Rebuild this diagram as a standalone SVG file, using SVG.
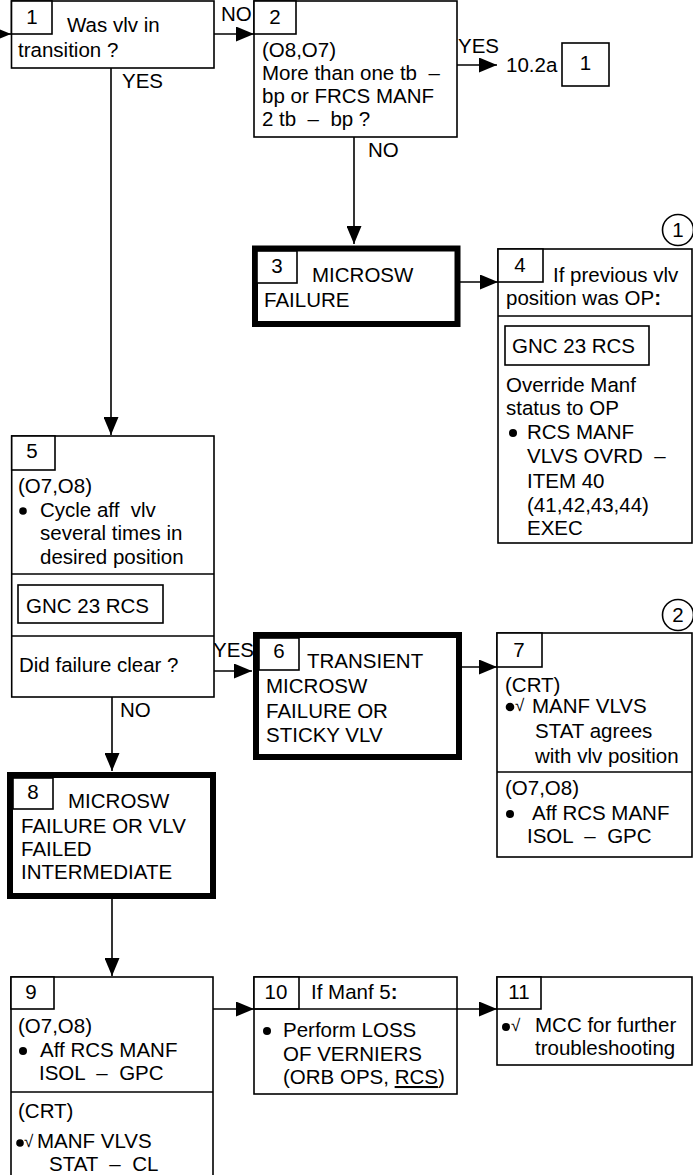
<svg xmlns="http://www.w3.org/2000/svg" width="693" height="1175" viewBox="0 0 693 1175" xml:space="preserve">
<style>
text{font-family:"Liberation Sans",Arial,Helvetica,sans-serif;font-size:20.5px;fill:#000;white-space:pre}
.n{text-anchor:middle}
.ck{font-family:"Liberation Sans",sans-serif;font-size:17px}
.b{fill:#fff;stroke:#000;stroke-width:1.6}
.k{fill:#fff;stroke:#000;stroke-width:6}
.l{fill:none;stroke:#000;stroke-width:1.6}
.c{stroke:#000;stroke-width:1.6;fill:none}
.d{fill:#000}
</style>
<defs>
<marker id="ah" markerWidth="18" markerHeight="15" refX="18" refY="7.5" orient="auto" markerUnits="userSpaceOnUse"><path d="M0,0 L18,7.5 L0,15 z" fill="#000"/></marker>
</defs>
<rect x="0" y="0" width="693" height="1175" fill="#fff"/>

<g id="connectors">
<line class="c" x1="-20" y1="34" x2="11" y2="34" marker-end="url(#ah)"/>
<line class="c" x1="214" y1="34" x2="254" y2="34" marker-end="url(#ah)"/>
<text x="221" y="21">NO</text>
<line class="c" x1="111" y1="68" x2="111" y2="435" marker-end="url(#ah)"/>
<text x="122" y="88">YES</text>
<line class="c" x1="457" y1="65" x2="497" y2="65" marker-end="url(#ah)"/>
<text x="458" y="53">YES</text>
<line class="c" x1="354" y1="137" x2="354" y2="244" marker-end="url(#ah)"/>
<text x="368" y="157">NO</text>
<line class="c" x1="460" y1="282" x2="498" y2="282" marker-end="url(#ah)"/>
<line class="c" x1="214" y1="671" x2="252" y2="671" marker-end="url(#ah)"/>
<text x="213" y="657">YES</text>
<line class="c" x1="112" y1="697" x2="112" y2="771" marker-end="url(#ah)"/>
<text x="120" y="717">NO</text>
<line class="c" x1="462" y1="667" x2="497" y2="667" marker-end="url(#ah)"/>
<line class="c" x1="112" y1="899" x2="112" y2="976" marker-end="url(#ah)"/>
<line class="c" x1="213" y1="1009" x2="254" y2="1009" marker-end="url(#ah)"/>
<line class="c" x1="457" y1="1009" x2="497" y2="1009" marker-end="url(#ah)"/>
</g>

<g id="ref-10-2a">
<text x="506" y="72">10.2a</text>
<rect class="b" x="562" y="43" width="47" height="43"/>
<text class="n" x="585.5" y="70">1</text>
</g>

<g id="node1">
<rect class="b" x="11.5" y="1" width="202.5" height="67"/>
<rect class="b" x="11.5" y="1" width="40.5" height="33"/>
<text class="n" x="32" y="24">1</text>
<text x="67" y="32">Was vlv in</text>
<text x="18" y="57">transition ?</text>
</g>

<g id="node2">
<rect class="b" x="254" y="1" width="203" height="136"/>
<rect class="b" x="254" y="1" width="42" height="33"/>
<text class="n" x="275" y="24">2</text>
<text x="262" y="57">(O8,O7)</text>
<text x="262" y="80">More than one tb  –</text>
<text x="262" y="103">bp or FRCS MANF</text>
<text x="262" y="126">2 tb  –  bp ?</text>
</g>

<g id="node3">
<rect class="k" x="255" y="248.5" width="202.5" height="75.5"/>
<rect class="b" x="257" y="251" width="40" height="32"/>
<text class="n" x="277" y="273">3</text>
<text x="312" y="282">MICROSW</text>
<text x="264" y="307">FAILURE</text>
</g>

<g id="node4">
<rect class="b" x="498" y="249" width="194" height="294"/>
<rect class="b" x="498" y="249" width="45" height="33"/>
<text class="n" x="520" y="272">4</text>
<text x="553" y="282">If previous vlv</text>
<text x="506" y="305">position was OP<tspan font-weight="bold">:</tspan></text>
<line class="l" x1="498" y1="316" x2="692" y2="316"/>
<rect class="b" x="505" y="326" width="144" height="39"/>
<text x="512" y="353">GNC 23 RCS</text>
<text x="506" y="392">Override Manf</text>
<text x="506" y="415">status to OP</text>
<circle class="d" cx="513" cy="433" r="4"/>
<text x="527" y="439">RCS MANF</text>
<text x="527" y="463">VLVS OVRD  –</text>
<text x="527" y="488">ITEM 40</text>
<text x="527" y="512">(41,42,43,44)</text>
<text x="527" y="535">EXEC</text>
<circle class="b" cx="678" cy="230" r="15.5"/>
<text class="n" x="678" y="237">1</text>
</g>

<g id="node5">
<rect class="b" x="11.7" y="436" width="202.3" height="261"/>
<rect class="b" x="11.7" y="436" width="43.3" height="34"/>
<text class="n" x="32" y="458">5</text>
<text x="18" y="493">(O7,O8)</text>
<circle class="d" cx="23" cy="511" r="3.8"/>
<text x="40" y="517">Cycle aff  vlv</text>
<text x="40" y="540">several times in</text>
<text x="40" y="564">desired position</text>
<line class="l" x1="11.7" y1="574" x2="214" y2="574"/>
<rect class="b" x="18" y="585" width="145" height="38"/>
<text x="26" y="613">GNC 23 RCS</text>
<line class="l" x1="11.7" y1="636" x2="214" y2="636"/>
<text x="19" y="672">Did failure clear ?</text>
</g>

<g id="node6">
<rect class="k" x="256" y="635" width="203" height="122"/>
<rect class="b" x="259" y="638" width="40" height="32"/>
<text class="n" x="279" y="658">6</text>
<text x="307" y="668">TRANSIENT</text>
<text x="266" y="693">MICROSW</text>
<text x="266" y="718">FAILURE OR</text>
<text x="266" y="742">STICKY VLV</text>
</g>

<g id="node7">
<rect class="b" x="497" y="633" width="195" height="224"/>
<rect class="b" x="497" y="633" width="45" height="34"/>
<text class="n" x="519" y="657">7</text>
<text x="505" y="692">(CRT)</text>
<circle class="d" cx="510" cy="707" r="4.3"/>
<text class="ck" x="515" y="711">√</text>
<text x="532" y="713">MANF VLVS</text>
<text x="535" y="738">STAT agrees</text>
<text x="535" y="763">with vlv position</text>
<line class="l" x1="497" y1="772" x2="692" y2="772"/>
<text x="505" y="795">(O7,O8)</text>
<circle class="d" cx="510" cy="814" r="4"/>
<text x="532" y="820">Aff RCS MANF</text>
<text x="527" y="843">ISOL  –  GPC</text>
<circle class="b" cx="678" cy="615" r="15.5"/>
<text class="n" x="678" y="622">2</text>
</g>

<g id="node8">
<rect class="k" x="10" y="775" width="203" height="121"/>
<rect class="b" x="13" y="778" width="40" height="31"/>
<text class="n" x="33" y="799">8</text>
<text x="68" y="808">MICROSW</text>
<text x="21" y="833">FAILURE OR VLV</text>
<text x="21" y="856">FAILED</text>
<text x="21" y="879">INTERMEDIATE</text>
</g>

<g id="node9">
<rect class="b" x="11" y="977" width="202" height="210"/>
<rect class="b" x="11" y="977" width="43" height="32"/>
<text class="n" x="31" y="999">9</text>
<text x="18" y="1033">(O7,O8)</text>
<circle class="d" cx="23" cy="1051" r="4"/>
<text x="40" y="1057">Aff RCS MANF</text>
<text x="39" y="1080">ISOL  –  GPC</text>
<line class="l" x1="11" y1="1092" x2="213" y2="1092"/>
<text x="18" y="1118">(CRT)</text>
<circle class="d" cx="20" cy="1143" r="3.8"/>
<text class="ck" x="24" y="1147">√</text>
<text x="37" y="1148">MANF VLVS</text>
<text x="49" y="1171">STAT  –  CL</text>
</g>

<g id="node10">
<rect class="b" x="254" y="977" width="203" height="117"/>
<rect class="b" x="254" y="977" width="45" height="32"/>
<line class="l" x1="254" y1="1009" x2="457" y2="1009"/>
<text class="n" x="276" y="999">10</text>
<text x="311" y="999">If Manf 5<tspan font-weight="bold">:</tspan></text>
<circle class="d" cx="267" cy="1031" r="4"/>
<text x="283" y="1037">Perform LOSS</text>
<text x="283" y="1061">OF VERNIERS</text>
<text x="283" y="1084">(ORB OPS, <tspan text-decoration="underline">RCS</tspan>)</text>
</g>

<g id="node11">
<rect class="b" x="497" y="977" width="195" height="88"/>
<rect class="b" x="497" y="977" width="44" height="32"/>
<text class="n" x="519" y="999">11</text>
<circle class="d" cx="506" cy="1027" r="4"/>
<text class="ck" x="511" y="1031">√</text>
<text x="535" y="1032">MCC for further</text>
<text x="535" y="1055">troubleshooting</text>
</g>
</svg>
